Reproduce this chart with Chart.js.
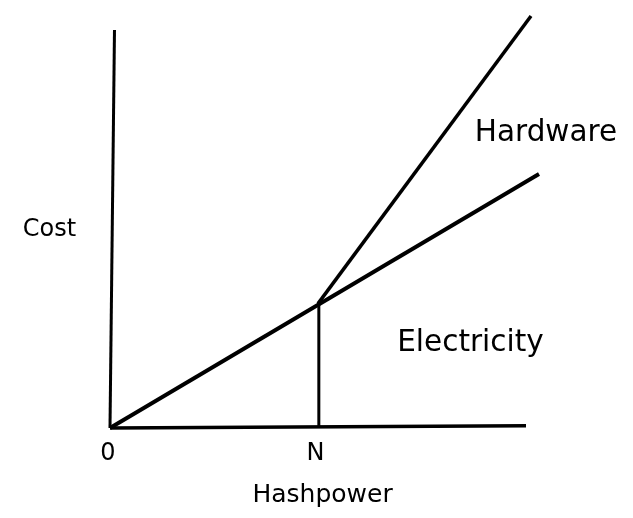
<!DOCTYPE html>
<html>
<head>
<meta charset="utf-8">
<script src="https://cdn.jsdelivr.net/npm/chart.js@4/dist/chart.umd.min.js"></script>
<style>
  html, body { margin: 0; padding: 0; background: #fff; }
  canvas { display: block; }
</style>
</head>
<body>
<canvas id="chart" width="633" height="518"></canvas>
<script>
// hashpower on x (N = 1), cost on y, same units on both
const xAxisLine = [[0, 0], [2.0, 0.011]];
const yAxisLine = [[0, 0], [0.0216, 1.913]];
const electricity = [[0, 0], [2.0625, 1.221]];
const hardware = [[1.0, 0.598], [2.024, 1.981]];
const nMarker = [[1.004, 0], [1.004, 0.598]];

// text labels and where they sit in data units
const labels = [
  { text: "0", x: -0.01, y: -0.154, size: 24 },
  { text: "N", x: 0.988, y: -0.154, size: 24 },
  { text: "Hashpower", x: 1.022, y: -0.356, size: 25 },
  { text: "Cost", x: -0.291, y: 0.923, size: 24 },
  { text: "Hardware", x: 2.096, y: 1.38, size: 29.5 },
  { text: "Electricity", x: 1.733, y: 0.371, size: 29.5 },
];

const toPts = (arr) => arr.map(([x, y]) => ({ x, y }));

const line = (pts, w) => ({
  data: toPts(pts),
  showLine: true,
  borderColor: "#000",
  borderWidth: w,
  pointRadius: 0,
  fill: false,
  tension: 0,
});

// draw the labels after the lines
const textPlugin = {
  id: "textLabels",
  afterDatasetsDraw(chart) {
    const ctx = chart.ctx;
    const xs = chart.scales.x, ys = chart.scales.y;
    ctx.save();
    ctx.fillStyle = "#000";
    ctx.textAlign = "center";
    ctx.textBaseline = "alphabetic";
    labels.forEach((l) => {
      ctx.font = l.size + "px 'DejaVu Sans'";
      ctx.fillText(l.text, xs.getPixelForValue(l.x), ys.getPixelForValue(l.y));
    });
    ctx.restore();
  },
};

new Chart(document.getElementById("chart"), {
  type: "scatter",
  data: {
    datasets: [
      line(yAxisLine, 3),
      line(xAxisLine, 3.5),
      line(electricity, 4),
      line(hardware, 3.5),
      line(nMarker, 3),
    ],
  },
  options: {
    responsive: false,
    animation: false,
    layout: { padding: 0 },
    plugins: { legend: { display: false }, tooltip: { enabled: false } },
    scales: {
      x: { type: "linear", min: -0.5288, max: 2.5144, display: false },
      y: { type: "linear", min: -0.4327, max: 2.0577, display: false },
    },
  },
  plugins: [textPlugin],
});
</script>
</body>
</html>
